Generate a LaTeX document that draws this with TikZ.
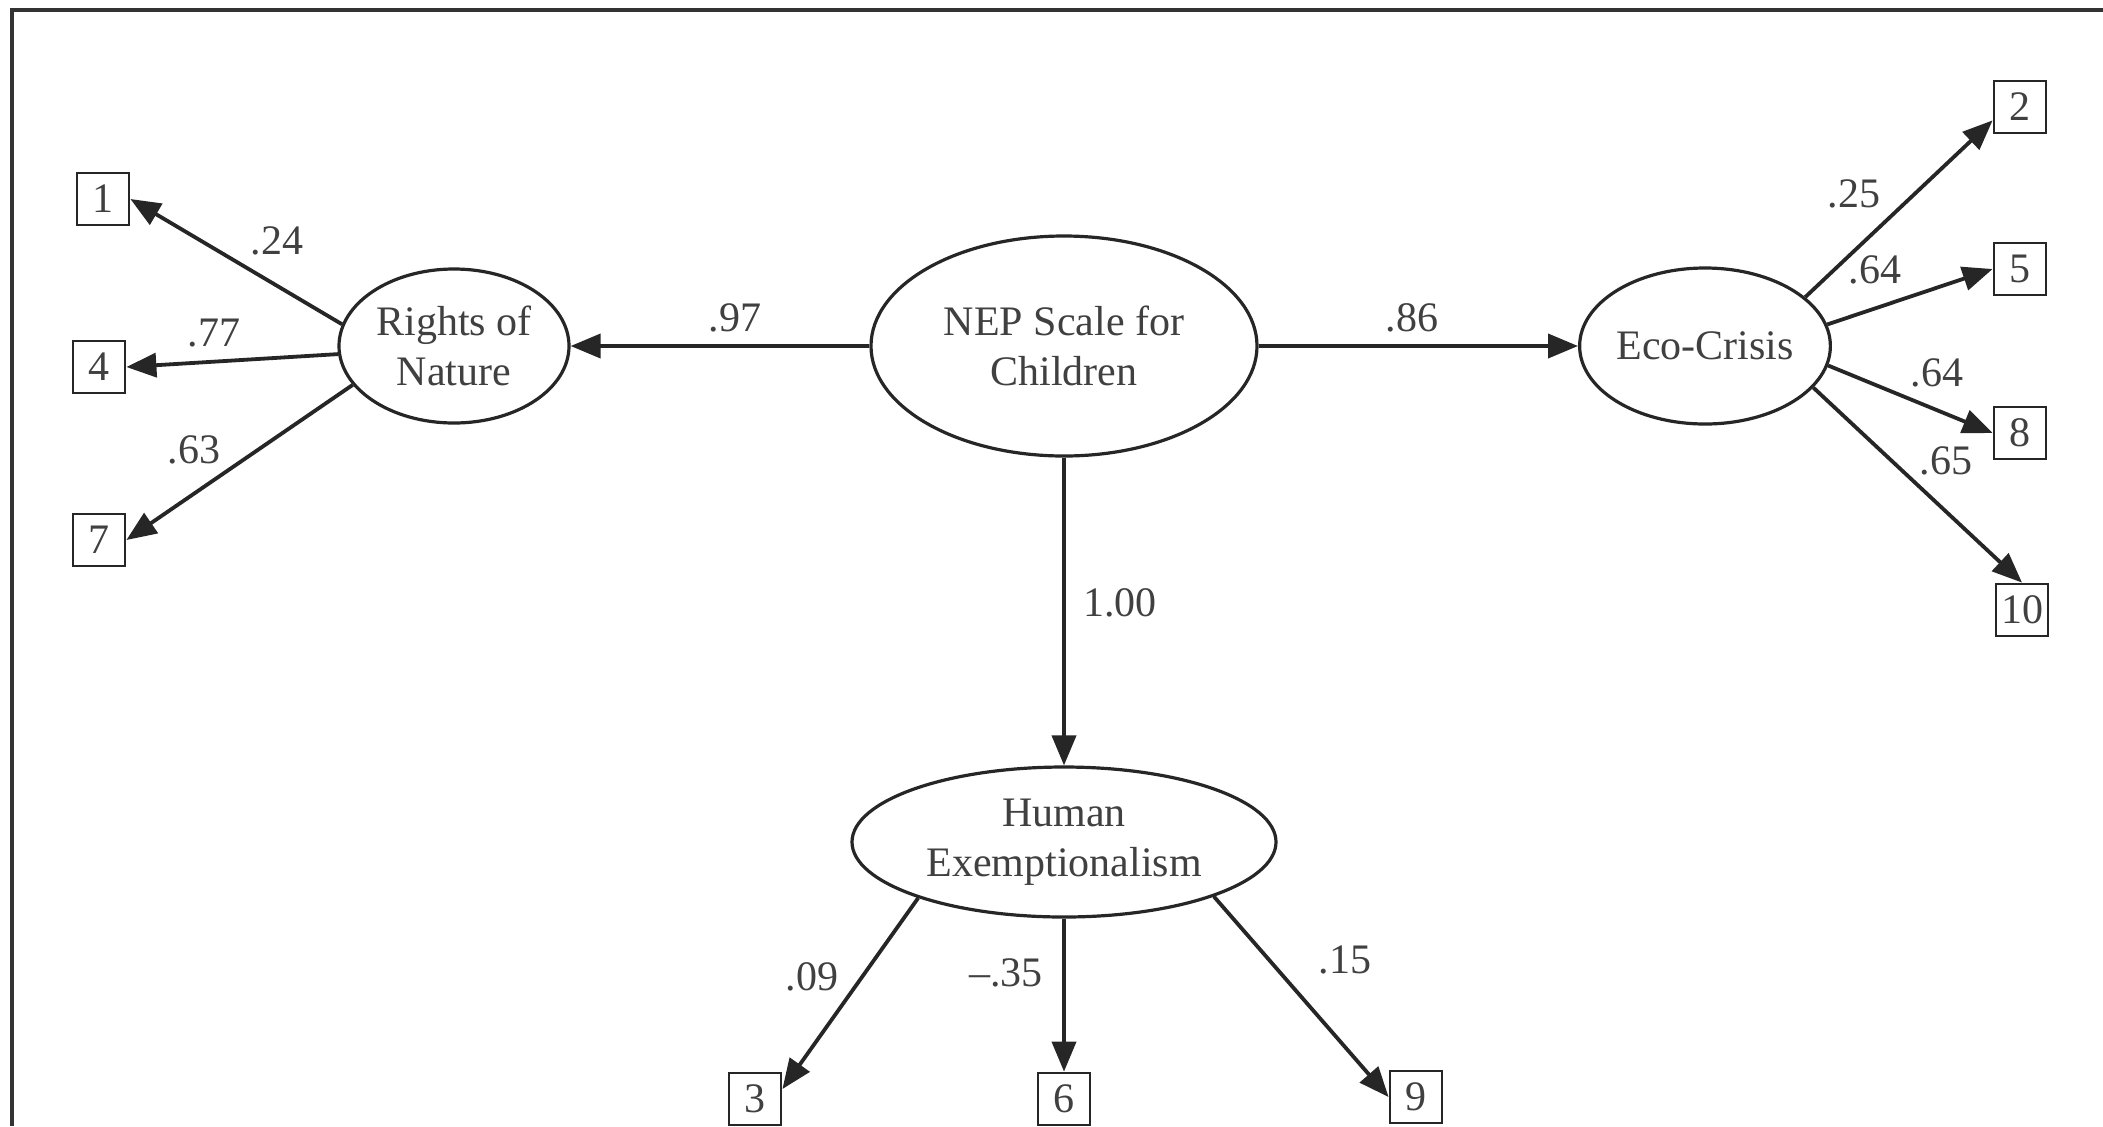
\documentclass[tikz,border=0pt]{standalone}
\usepackage{fontspec}
\setmainfont{Liberation Serif}
\usetikzlibrary{arrows.meta,shapes.geometric}
\begin{document}
\begin{tikzpicture}[x=0.5pt,y=-0.5pt,
  lat/.style={ellipse,draw=black!85,line width=1.6pt,inner sep=0pt,align=center,font=\fontsize{21}{25}\selectfont,text=black!75},
  obs/.style={rectangle,draw=black!85,line width=1.4pt,minimum width=26pt,minimum height=26pt,inner sep=0pt,font=\fontsize{21}{25}\selectfont,text=black!75},
  arr/.style={line width=1.9pt,draw=black!85,-{Triangle[length=15pt,width=12pt]}},
  coef/.style={font=\fontsize{21}{25}\selectfont,text=black!75,inner sep=0pt}]
\useasboundingbox (0,0) rectangle (2103,1126);
\fill[white] (0,0) rectangle (2103,1126);
% frame (top and left only)
\draw[line width=2pt,black!80] (12,1126) -- (12,10) -- (2103,10);

% latent variables
\node[lat,minimum width=193pt,minimum height=110pt] (nep) at (1064,346) {NEP Scale for\\Children};
\node[lat,minimum width=115pt,minimum height=77pt] (rn) at (454,346) {Rights of\\Nature};
\node[lat,minimum width=115pt,minimum height=78pt] (ec) at (1705,346) {Eco-Crisis};
\node[lat,minimum width=212pt,minimum height=75pt] (he) at (1064,842) {Human\\Exemptionalism};

% observed items
\node[obs] (b1) at (103,199) {1};
\node[obs] (b4) at (99,367) {4};
\node[obs] (b7) at (99,540) {7};
\node[obs] (b2) at (2020,107) {2};
\node[obs] (b5) at (2020,269) {5};
\node[obs] (b8) at (2020,433) {8};
\node[obs] (b10) at (2022,610) {10};
\node[obs] (b3) at (755,1099) {3};
\node[obs] (b6) at (1064,1099) {6};
\node[obs] (b9) at (1416,1097) {9};

% structural paths
\draw[arr] (nep) -- (rn);
\draw[arr] (nep) -- (ec);
\draw[arr] (nep) -- (he);

% loadings
\draw[arr] (rn.169) -- (b1.east);
\draw[arr] (rn.184) -- (b4.east);
\draw[arr] (rn.201) -- (b7.east);
\draw[arr] (ec.26) -- (b2.206);
\draw[arr] (ec.10) -- (b5.west);
\draw[arr] (ec.-9) -- (b8.west);
\draw[arr] (ec.-21) -- (b10.north);
\draw[arr] (he.201) -- (b3.20);
\draw[arr] (he.south) -- (b6.north);
\draw[arr] (he.-20) -- (b9.west);

% coefficients
\node[coef] (c97) at (735,318) {.97};
\node[coef] (c86) at (1412,318) {.86};
\node[coef] (c100) at (1120,603) {1.00};
\node[coef] (c24) at (277,241) {.24};
\node[coef] (c77) at (214,333) {.77};
\node[coef] (c63) at (194,450) {.63};
\node[coef] (c25) at (1854,194) {.25};
\node[coef] (c64a) at (1875,270) {.64};
\node[coef] (c64b) at (1937,373) {.64};
\node[coef] (c65) at (1946,461) {.65};
\node[coef] (c09) at (812,977) {.09};
\node[coef] (c35) at (1006,973) {\textendash.35};
\node[coef] (c15) at (1345,960) {.15};
\end{tikzpicture}
\end{document}
